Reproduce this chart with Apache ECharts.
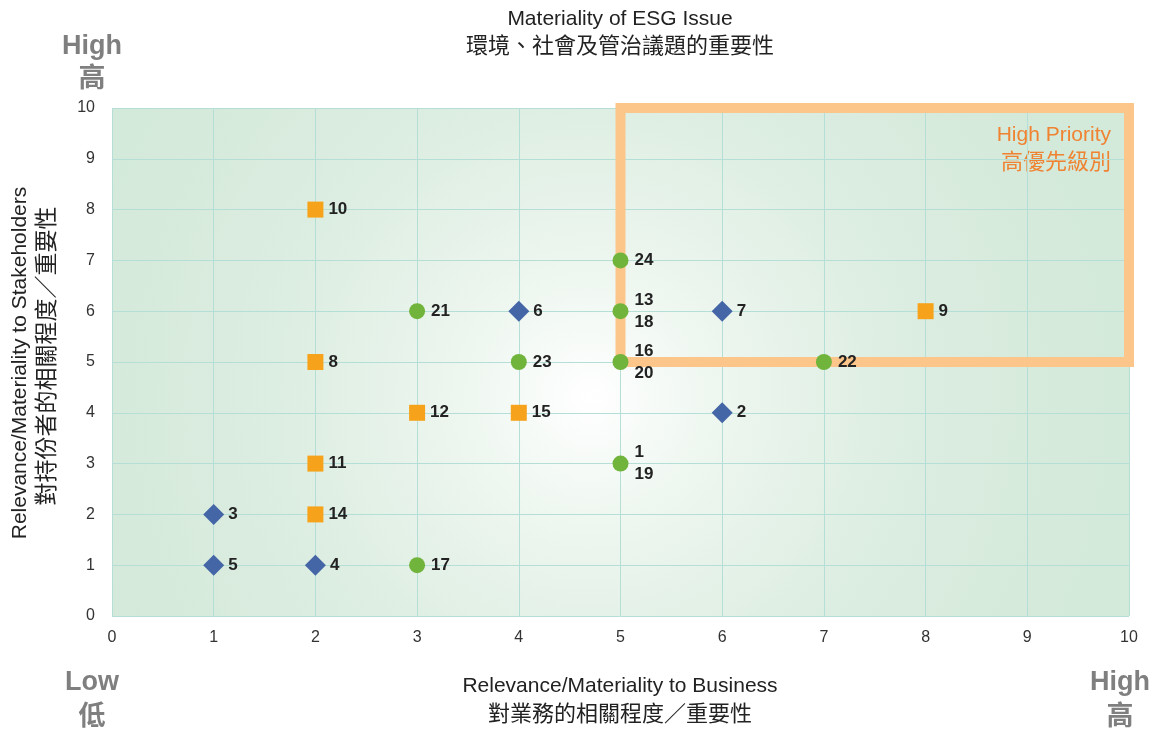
<!DOCTYPE html>
<html>
<head>
<meta charset="utf-8">
<script src="https://cdn.jsdelivr.net/npm/echarts@6/dist/echarts.min.js"></script>
<style>html,body{margin:0;padding:0;background:#fff}#c{width:1160px;height:734px}</style>
</head>
<body>
<div id="c"></div>
<script>
// Tick labels
const xTicks = [0,1,2,3,4,5,6,7,8,9,10];
const yTicks = [0,1,2,3,4,5,6,7,8,9,10];

// Diamond (blue) issues: [x, y]
const diamondPoints = [[1,2],[1,1],[2,1],[4,6],[6,6],[6,4]];
const diamondLabels = ['3','5','4','6','7','2'];

// Square (orange) issues
const squarePoints = [[2,8],[2,5],[3,4],[4,4],[2,3],[2,2],[8,6]];
const squareLabels = ['10','8','12','15','11','14','9'];

// Circle (green) issues
const circlePoints = [[3,6],[5,7],[5,6],[4,5],[5,5],[7,5],[5,3],[3,1]];
const circleLabels = ['21','24','13\n18','23','16\n20','22','1\n19','17'];

// High priority zone corners
const priorityBox = [[5,5],[5,10],[10,10],[10,5],[5,5]];

const FONT = 'Liberation Sans, Helvetica, Arial, Noto Sans CJK TC, sans-serif';
const CJK = 'Liberation Sans, Noto Sans CJK TC, sans-serif';

function mk(points, labels){
  return points.map((p,i)=>({value:[p[0],p[1]], label:{formatter:labels[i]}}));
}

const labelStyle = {
  show:true, position:'right', distance:6,
  color:'#222222', fontSize:17, fontWeight:'bold', fontFamily:FONT, lineHeight:22
};

function txt(x, y, text, font, fill, align){
  return {type:'text', x:x, y:y, silent:true,
    style:{text:text, fill:fill, font:font, textAlign:align||'center', textVerticalAlign:'middle'}};
}

const chart = echarts.init(document.getElementById('c'), null, {renderer:'canvas'});
chart.setOption({
  animation:false,
  backgroundColor:'#ffffff',
  grid:{
    left:112, right:31, top:108, bottom:118, show:true, borderWidth:0,
    backgroundColor:{
      type:'radial', x:0.47, y:0.57, r:1.05,
      colorStops:[
        {offset:0, color:'#ffffff'},
        {offset:0.25, color:'#edf6ef'},
        {offset:0.6, color:'#dcede1'},
        {offset:1, color:'#d3e9d9'}
      ]
    }
  },
  xAxis:{
    type:'value', min:0, max:10, interval:1,
    axisLine:{show:false}, axisTick:{show:false},
    splitLine:{show:true, lineStyle:{color:'#b5dfd6', width:1}},
    axisLabel:{color:'#333', fontSize:16, fontFamily:FONT, margin:14}
  },
  yAxis:{
    type:'value', min:0, max:10, interval:1,
    axisLine:{show:false}, axisTick:{show:false},
    splitLine:{show:true, lineStyle:{color:'#b5dfd6', width:1}},
    axisLabel:{color:'#333', fontSize:16, fontFamily:FONT, margin:17}
  },
  graphic:[
    txt(620, 19, 'Materiality of ESG Issue', '21px '+CJK, '#222'),
    txt(620, 47, '環境、社會及管治議題的重要性', '22px '+CJK, '#222'),
    txt(620, 686, 'Relevance/Materiality to Business', '21px '+CJK, '#222'),
    txt(620, 715, '對業務的相關程度／重要性', '22px '+CJK, '#222'),
    Object.assign(txt(20, 363, 'Relevance/Materiality to Stakeholders', '21px '+CJK, '#222'), {rotation:Math.PI/2}),
    Object.assign(txt(48, 356, '對持份者的相關程度／重要性', '23px '+CJK, '#222'), {rotation:Math.PI/2}),
    txt(92, 47, 'High', 'bold 27px '+CJK, '#7f7f7f'),
    txt(92, 80, '高', 'bold 27px '+CJK, '#7f7f7f'),
    txt(92, 683, 'Low', 'bold 27px '+CJK, '#7f7f7f'),
    txt(92, 718, '低', 'bold 27px '+CJK, '#7f7f7f'),
    txt(1120, 683, 'High', 'bold 27px '+CJK, '#7f7f7f'),
    txt(1120, 718, '高', 'bold 27px '+CJK, '#7f7f7f'),
    txt(1111, 135, 'High Priority', '21px '+CJK, '#f08332', 'right'),
    txt(1111, 163, '高優先級別', '22px '+CJK, '#f08332', 'right')
  ],
  series:[
    {
      type:'line', data:priorityBox, symbol:'none', clip:false, z:1,
      lineStyle:{color:'#fcc58a', width:10, join:'miter', cap:'square'},
      silent:true
    },
    {
      type:'scatter', name:'Governance', symbol:'diamond', symbolSize:[21,21], z:3,
      itemStyle:{color:'#4466a6', opacity:1},
      label:Object.assign({}, labelStyle, {distance:4}),
      data:mk(diamondPoints, diamondLabels)
    },
    {
      type:'scatter', name:'Social', symbol:'rect', symbolSize:[16,16], z:3,
      itemStyle:{color:'#f6a31b', opacity:1},
      label:Object.assign({}, labelStyle, {distance:5}),
      data:mk(squarePoints, squareLabels)
    },
    {
      type:'scatter', name:'Environmental', symbol:'circle', symbolSize:16, z:3,
      itemStyle:{color:'#71b43c', opacity:1},
      label:Object.assign({}, labelStyle, {distance:6}),
      data:mk(circlePoints, circleLabels)
    }
  ]
});
</script>
</body>
</html>
